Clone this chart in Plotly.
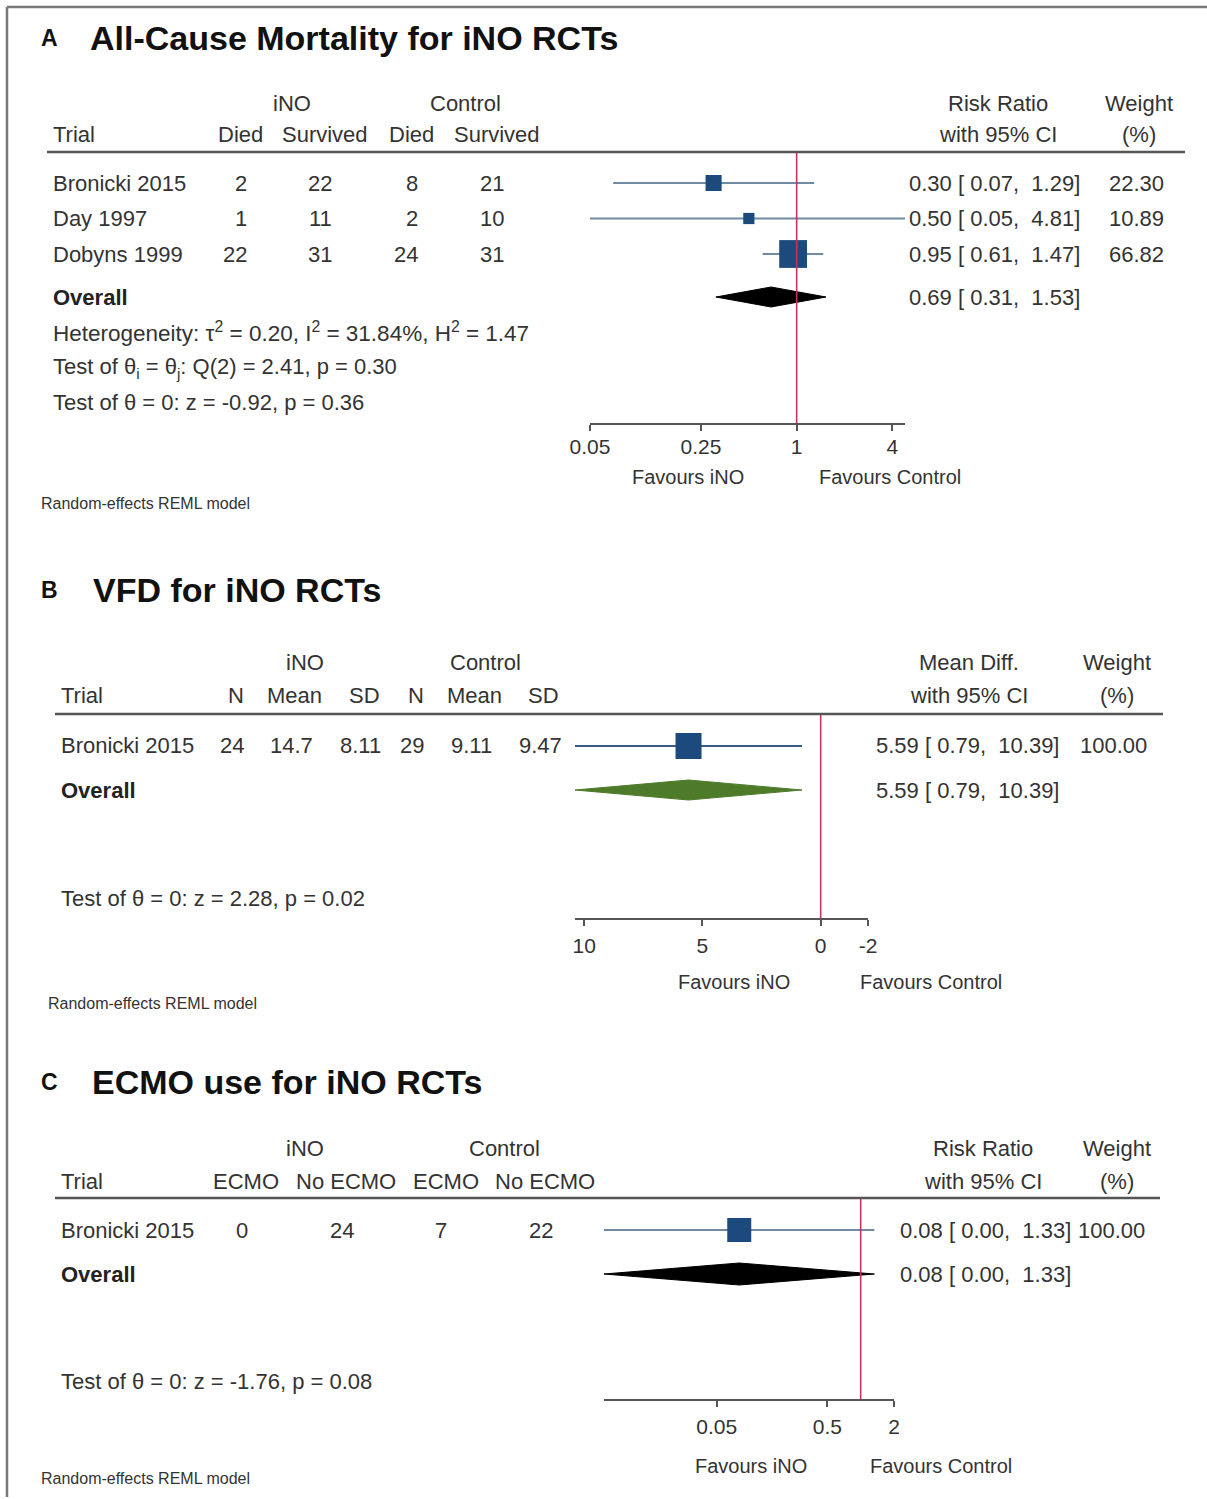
import math
import plotly.graph_objects as go

W, H = 1207, 1499
FONT = "Liberation Sans, Arial, Helvetica, sans-serif"
NB = "\u00a0"

# ---------------- Panel A data: All-cause mortality ----------------
a_trials = ["Bronicki 2015", "Day 1997", "Dobyns 1999"]
a_ino_died = [2, 1, 22]
a_ino_surv = [22, 11, 31]
a_ctl_died = [8, 2, 24]
a_ctl_surv = [21, 10, 31]
a_rr = [0.30, 0.50, 0.95]
a_lo = [0.07, 0.05, 0.61]
a_hi = [1.29, 4.81, 1.47]
a_weight = [22.30, 10.89, 66.82]
a_overall = [0.69, 0.31, 1.53]
a_ticks = [0.05, 0.25, 1, 4]
a_ticktext = ["0.05", "0.25", "1", "4"]
a_het = {"tau2": "0.20", "I2": "31.84%", "H2": "1.47"}
a_q = {"df": 2, "Q": "2.41", "p": "0.30"}
a_z = {"z": "-0.92", "p": "0.36"}

# ---------------- Panel B data: VFD ----------------
b_trials = ["Bronicki 2015"]
b_ino_n = [24]
b_ino_mean = ["14.7"]
b_ino_sd = ["8.11"]
b_ctl_n = [29]
b_ctl_mean = ["9.11"]
b_ctl_sd = ["9.47"]
b_md = [5.59]
b_lo = [0.79]
b_hi = [10.39]
b_weight = [100.00]
b_overall = [5.59, 0.79, 10.39]
b_ticks = [10, 5, 0, -2]
b_ticktext = ["10", "5", "0", "-2"]
b_z = {"z": "2.28", "p": "0.02"}

# ---------------- Panel C data: ECMO use ----------------
c_trials = ["Bronicki 2015"]
c_ino_ecmo = [0]
c_ino_noecmo = [24]
c_ctl_ecmo = [7]
c_ctl_noecmo = [22]
c_rr = [0.08]
c_lo = [0.0048]   # shown as 0.00
c_hi = [1.33]
c_weight = [100.00]
c_overall = [0.08, 0.0048, 1.33]
c_ticks = [0.05, 0.5, 2]
c_ticktext = ["0.05", "0.5", "2"]
c_z = {"z": "-1.76", "p": "0.08"}


def X(p):
    return p / W


def Y(p):
    return 1 - p / H


ann = []
shapes = []
fig = go.Figure()

TXT = "#333333"


def text(x, y, s, anchor="left", size=22, color=TXT, bold=False):
    if bold:
        s = f"<b>{s}</b>"
    ann.append(dict(x=X(x), y=Y(y), xref="paper", yref="paper", text=s,
                    showarrow=False, xanchor=anchor, yanchor="middle",
                    font=dict(family=FONT, size=size, color=color)))


def hline(x0, x1, y, color="#555555", width=2.5):
    shapes.append(dict(type="line", xref="paper", yref="paper",
                       x0=X(x0), x1=X(x1), y0=Y(y), y1=Y(y),
                       line=dict(color=color, width=width)))


def ci_str(e, l, h):
    return f"{e:.2f}{NB}[{NB}{l:.2f},{NB}{NB}{h:.2f}]"


# frame
shapes.append(dict(type="line", xref="paper", yref="paper", x0=X(7), x1=X(7),
                   y0=Y(7), y1=Y(1497), line=dict(color="#7a7a7a", width=2.5)))
shapes.append(dict(type="line", xref="paper", yref="paper", x0=X(7), x1=X(1207),
                   y0=Y(7), y1=Y(7), line=dict(color="#7a7a7a", width=2.5)))

MARK = "#1c4a7c"
RED = "#c8325f"


def forest(n, est, lo, hi, weights, overall, rows_y, overall_y, size_k,
           ci_color, diamond_color, dh):
    xa = "x" if n == 1 else f"x{n}"
    ya = "y" if n == 1 else f"y{n}"
    for e, l, h, w, yy in zip(est, lo, hi, weights, rows_y):
        fig.add_trace(go.Scatter(x=[l, h], y=[yy, yy], mode="lines",
                                 line=dict(color=ci_color, width=2),
                                 xaxis=xa, yaxis=ya, hoverinfo="skip",
                                 cliponaxis=False))
        fig.add_trace(go.Scatter(x=[e], y=[yy], mode="markers",
                                 marker=dict(symbol="square", color=MARK,
                                             size=size_k * math.sqrt(w),
                                             line=dict(width=0)),
                                 xaxis=xa, yaxis=ya, cliponaxis=False))
    oe, ol, oh = overall
    fig.add_trace(go.Scatter(x=[ol, oe, oh, oe, ol],
                             y=[overall_y, overall_y - dh, overall_y,
                                overall_y + dh, overall_y],
                             mode="lines", fill="toself", fillcolor=diamond_color,
                             line=dict(color=diamond_color, width=1),
                             xaxis=xa, yaxis=ya, cliponaxis=False))


def ref_line(n, xval, y_top, y_bot):
    xa = "x" if n == 1 else f"x{n}"
    ya = "y" if n == 1 else f"y{n}"
    fig.add_trace(go.Scatter(x=[xval, xval], y=[y_top, y_bot], mode="lines",
                             line=dict(color=RED, width=1.6),
                             xaxis=xa, yaxis=ya, cliponaxis=False))


def axis_cfg(dom_px, rng, ttype, tickvals, ticktext, anchor, standoff):
    return dict(domain=[X(dom_px[0]), X(dom_px[1])], range=rng, type=ttype,
                tickvals=tickvals, ticktext=ticktext, anchor=anchor,
                showline=True, linecolor="#555555", linewidth=2,
                ticks="outside", ticklen=6, tickwidth=1.5, tickcolor="#555555",
                showgrid=False, zeroline=False, fixedrange=True,
                automargin=False, ticklabelstandoff=standoff,
                tickfont=dict(family=FONT, size=21, color=TXT))


def yaxis_cfg(top_px, bot_px):
    return dict(domain=[Y(bot_px), Y(top_px)], range=[bot_px, top_px],
                visible=False, fixedrange=True, automargin=False)


TS = 34      # panel title size
NS = 16      # model note size

# ====================== Panel A ======================
A_HEAD, A_AXIS = 152, 423
a_rows = [183 + 35.5 * i for i in range(len(a_trials))]
A_OV = 297
text(39, 38, "A", size=23, color="#111", bold=True)
text(88, 38, "All-Cause Mortality for iNO RCTs", size=TS, color="#111", bold=True)
text(292, 103, "iNO", "center")
text(465, 103, "Control", "center")
text(51, 135, "Trial")
for cx, s in zip([240, 325, 411, 497], ["Died", "Survived", "Died", "Survived"]):
    text(cx, 135, s, "center")
text(998, 103, "Risk Ratio", "center")
text(998, 135, "with 95% CI", "center")
text(1139, 103, "Weight", "center")
text(1139, 135, "(%)", "center")
hline(47, 1185, A_HEAD)
for i, yy in enumerate(a_rows):
    text(51, yy, a_trials[i])
    text(249, yy, str(a_ino_died[i]), "right")
    text(334, yy, str(a_ino_surv[i]), "right")
    text(420, yy, str(a_ctl_died[i]), "right")
    text(506, yy, str(a_ctl_surv[i]), "right")
    text(907, yy, ci_str(a_rr[i], a_lo[i], a_hi[i]))
    text(1166, yy, f"{a_weight[i]:.2f}", "right")
text(51, A_OV, "Overall", bold=True, color="#222")
text(907, A_OV, ci_str(*a_overall))
text(51, 332, f"Heterogeneity: τ<sup>2</sup> = {a_het['tau2']}, I<sup>2</sup> = {a_het['I2']}, H<sup>2</sup> = {a_het['H2']}", size=22.5)
text(51, 368, f"Test of θ<sub>i</sub> = θ<sub>j</sub>: Q({a_q['df']}) = {a_q['Q']}, p = {a_q['p']}")
text(51, 403, f"Test of θ = 0: z = {a_z['z']}, p = {a_z['p']}")
text(688, 477, "Favours iNO", "center", size=20)
text(890, 477, "Favours Control", "center", size=20)
text(39, 503, "Random-effects REML model", size=NS)
forest(1, a_rr, a_lo, a_hi, a_weight, a_overall, a_rows, A_OV, 3.4,
       "#6f8ba3", "#000000", 10)
ref_line(1, 1, A_HEAD, A_AXIS)

# ====================== Panel B ======================
B_HEAD, B_AXIS = 714, 918
b_rows = [746]
B_OV = 790
text(39, 590, "B", size=23, color="#111", bold=True)
text(91, 590, "VFD for iNO RCTs", size=TS, color="#111", bold=True)
text(305, 662, "iNO", "center")
text(485, 662, "Control", "center")
text(59, 696, "Trial")
for cx, s in zip([236, 294, 364, 416, 474, 543], ["N", "Mean", "SD", "N", "Mean", "SD"]):
    text(cx, 696, s, "center")
text(969, 662, "Mean Diff.", "center")
text(969, 696, "with 95% CI", "center")
text(1117, 662, "Weight", "center")
text(1117, 696, "(%)", "center")
hline(55, 1163, B_HEAD)
for i, yy in enumerate(b_rows):
    text(59, yy, b_trials[i])
    for cx, v in zip([232, 291, 360, 412, 471, 540],
                     [b_ino_n[i], b_ino_mean[i], b_ino_sd[i], b_ctl_n[i], b_ctl_mean[i], b_ctl_sd[i]]):
        text(cx, yy, str(v), "center")
    text(874, yy, ci_str(b_md[i], b_lo[i], b_hi[i]))
    text(1149, yy, f"{b_weight[i]:.2f}", "right")
text(59, B_OV, "Overall", bold=True, color="#222")
text(874, B_OV, ci_str(*b_overall))
text(59, 899, f"Test of θ = 0: z = {b_z['z']}, p = {b_z['p']}")
text(734, 982, "Favours iNO", "center", size=20)
text(931, 982, "Favours Control", "center", size=20)
text(46, 1003, "Random-effects REML model", size=NS)
forest(2, b_md, b_lo, b_hi, b_weight, b_overall, b_rows, B_OV, 2.6,
       "#3b5b85", "#4e7b2a", 10)
ref_line(2, 0, B_HEAD, B_AXIS)

# ====================== Panel C ======================
C_HEAD, C_AXIS = 1198, 1399
c_rows = [1230]
C_OV = 1274
text(39, 1082, "C", size=23, color="#111", bold=True)
text(90, 1082, "ECMO use for iNO RCTs", size=TS, color="#111", bold=True)
text(305, 1148, "iNO", "center")
text(504, 1148, "Control", "center")
text(59, 1181, "Trial")
for cx, s in zip([246, 346, 446, 545], ["ECMO", "No ECMO", "ECMO", "No ECMO"]):
    text(cx, 1181, s, "center")
text(983, 1148, "Risk Ratio", "center")
text(983, 1181, "with 95% CI", "center")
text(1117, 1148, "Weight", "center")
text(1117, 1181, "(%)", "center")
hline(55, 1160, C_HEAD)
for i, yy in enumerate(c_rows):
    text(59, yy, c_trials[i])
    for cx, v in zip([242, 342, 441, 541],
                     [c_ino_ecmo[i], c_ino_noecmo[i], c_ctl_ecmo[i], c_ctl_noecmo[i]]):
        text(cx, yy, str(v), "center")
    text(898, yy, ci_str(c_rr[i], c_lo[i], c_hi[i]))
    text(1147, yy, f"{c_weight[i]:.2f}", "right")
text(59, C_OV, "Overall", bold=True, color="#222")
text(898, C_OV, ci_str(*c_overall))
text(59, 1381, f"Test of θ = 0: z = {c_z['z']}, p = {c_z['p']}")
text(751, 1466, "Favours iNO", "center", size=20)
text(941, 1466, "Favours Control", "center", size=20)
text(39, 1478, "Random-effects REML model", size=NS)
forest(3, c_rr, c_lo, c_hi, c_weight, c_overall, c_rows, C_OV, 2.4,
       "#6f8ba3", "#000000", 11)
ref_line(3, 1, C_HEAD, C_AXIS)

fig.update_layout(
    template="none",
    width=W, height=H,
    margin=dict(l=0, r=0, t=0, b=0, pad=0, autoexpand=False),
    paper_bgcolor="white", plot_bgcolor="white", showlegend=False,
    font=dict(family=FONT, color=TXT),
    xaxis=axis_cfg([590, 905], [math.log10(0.05), math.log10(4.81)], "log",
                   a_ticks, a_ticktext, "y", -2),
    yaxis=yaxis_cfg(A_HEAD, A_AXIS),
    xaxis2=axis_cfg([575, 868], [10.39, -2], "linear", b_ticks, b_ticktext, "y2", 2),
    yaxis2=yaxis_cfg(B_HEAD, B_AXIS),
    xaxis3=axis_cfg([604, 894], [math.log10(0.0048), math.log10(2)], "log",
                    c_ticks, c_ticktext, "y3", 2),
    yaxis3=yaxis_cfg(C_HEAD, C_AXIS),
    annotations=ann, shapes=shapes,
)

fig.write_html("out.html", config={"displayModeBar": False},
               post_script="document.body.style.margin='0';")
